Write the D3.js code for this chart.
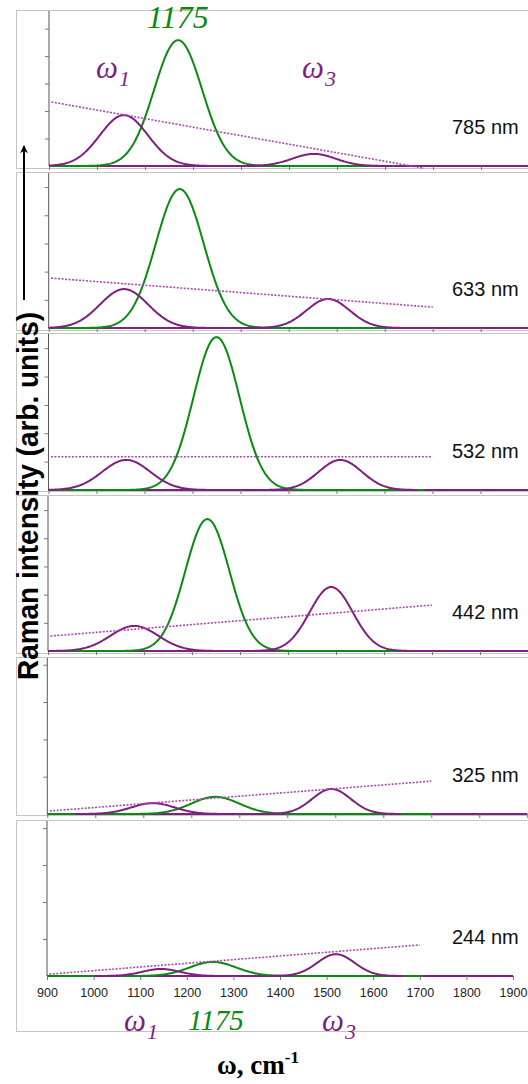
<!DOCTYPE html>
<html><head><meta charset="utf-8">
<script src="https://cdn.jsdelivr.net/npm/d3@7"></script>
<style>body{margin:0;background:#fff} svg{display:block}</style>
</head><body>
<svg id="c" width="528" height="1084"></svg>
<script>
// ---- data ----
const lasers = ["785 nm", "633 nm", "532 nm", "442 nm", "325 nm", "244 nm"];
const xTickValues = [900, 1000, 1100, 1200, 1300, 1400, 1500, 1600, 1700, 1800, 1900];
// omega1 band
const w1Center = [1056, 1057, 1062, 1080, 1120, 1145];
const w1Height = [1.85, 1.38, 1.06, 0.89, 0.29, 0.19];
const w1Sigma  = [50, 50, 50, 50, 45, 40];
// 1175 band
const gCenter = [1169, 1173, 1250, 1232, 1250, 1256];
const gHeight = [4.58, 4.93, 5.39, 4.68, 0.46, 0.38];
const gSigma  = [50, 50, 48, 46, 50, 50];
// omega3 band
const w3Center = [1452, 1482, 1508, 1490, 1492, 1520];
const w3Height = [0.44, 1.03, 1.06, 2.27, 0.67, 0.59];
const w3Sigma  = [45, 45, 45, 45, 40, 40];
// dotted background line (value at start / end)
const bgX0 = [905, 905, 905, 905, 905, 905];
const bgX1 = [1681, 1700, 1700, 1700, 1700, 1700];
const bgY0 = [2.33, 1.77, 1.17, 0.53, 0.08, 0.05];
const bgY1 = [-0.08, 0.74, 1.17, 1.63, 0.88, 0.84];
const yAxisMax = [5.64, 5.5, 5.5, 5.5, 4.18, 4.19];
const yTickValues = [1, 2, 3, 4, 5];

// ---- layout ----
const layout = {
  boxTop:    [10, 172, 333, 495, 657, 820],
  boxBottom: [168, 330, 491, 653, 815, 1031],
  baseline:  [166, 328, 490, 651, 814, 976],
  plotLeft:  [49, 48.7, 48.5, 48, 47.3, 47],
  plotRight: [529, 528.7, 528.5, 528, 527.3, 513]
};
const PURPLE = "#7f1f82", GREEN = "#0b8a12", DOT = "#b048b4";

const svg = d3.select("#c");

function gauss(c, h, s) { return x => h * Math.exp(-0.5 * ((x - c) / s) ** 2); }

lasers.forEach((lab, i) => {
  const g = svg.append("g");
  const x = d3.scaleLinear().domain([900, 1900]).range([layout.plotLeft[i], layout.plotRight[i]]);
  const y = d3.scaleLinear().domain([0, yAxisMax[i]]).range([layout.baseline[i], layout.boxTop[i] + 1]);

  // panel box
  g.append("rect").attr("x", 16.5).attr("y", layout.boxTop[i] + 0.5)
    .attr("width", 540).attr("height", layout.boxBottom[i] - layout.boxTop[i])
    .attr("fill", "none").attr("stroke", "#c4c4c4").attr("stroke-width", 1);

  // y axis
  const ya = d3.axisLeft(y).tickValues(yTickValues.filter(v => v < yAxisMax[i])).tickSize(4).tickFormat("");
  const yg = g.append("g").attr("transform", `translate(${layout.plotLeft[i]},0)`).call(ya);
  yg.select(".domain").attr("stroke", "#555").attr("d", `M0,${y.range()[1]}V${y.range()[0]}`);
  yg.selectAll(".tick line").attr("stroke", "#777");

  // x axis
  const xa = d3.axisBottom(x).tickValues(xTickValues).tickSize(4)
    .tickFormat(i === lasers.length - 1 ? d3.format("d") : "");
  const xg = g.append("g").attr("transform", `translate(0,${layout.baseline[i]})`).call(xa);
  xg.select(".domain").attr("stroke", PURPLE).attr("stroke-width", 2)
    .attr("d", `M${x.range()[0]},0H${x.range()[1]}`);
  xg.selectAll(".tick line").attr("stroke", "#777");
  xg.selectAll(".tick text").attr("font-family", "Liberation Sans, Arial, sans-serif")
    .attr("font-size", 12.5).attr("fill", "#222").attr("dy", "1.1em");

  const line = f => d3.line().x(d => x(d)).y(d => y(f(d))).curve(d3.curveLinear);
  const band = (c, h, s, color, k) => {
    const xs = d3.range(Math.max(900, c - k * s), Math.min(1900, c + k * s) + 0.1, 2);
    g.append("path").datum(xs).attr("d", line(gauss(c, h, s)))
      .attr("fill", "none").attr("stroke", color).attr("stroke-width", 2).attr("stroke-linejoin", "round");
  };
  band(gCenter[i], gHeight[i], gSigma[i], GREEN, 9);
  band(w1Center[i], w1Height[i], w1Sigma[i], PURPLE, 3.6);
  band(w3Center[i], w3Height[i], w3Sigma[i], PURPLE, 3.6);

  // dotted background
  g.append("line").attr("x1", x(bgX0[i])).attr("x2", x(bgX1[i]))
    .attr("y1", y(bgY0[i])).attr("y2", y(bgY1[i]))
    .attr("stroke", DOT).attr("stroke-width", 1.6).attr("stroke-dasharray", "2,1.5");

  // laser label
  g.append("text").attr("x", 452).attr("y", layout.baseline[i] - 32)
    .attr("font-family", "Liberation Sans, Arial, sans-serif").attr("font-size", 20)
    .attr("fill", "#111").text(lab);
});

// band labels (top)
function omega(xp, yp, sub) {
  const t = svg.append("text").attr("x", xp).attr("y", yp)
    .attr("font-family", "Liberation Serif, Times New Roman, serif").attr("font-style", "italic")
    .attr("font-size", 31).attr("fill", PURPLE);
  t.append("tspan").text("ω");
  t.append("tspan").attr("font-size", 22).attr("dy", 8).attr("dx", 1).text(sub);
}
omega(96, 78, "1");
omega(302, 78, "3");
svg.append("text").attr("x", 147).attr("y", 28)
  .attr("font-family", "Liberation Serif, Times New Roman, serif").attr("font-style", "italic")
  .attr("font-size", 32).attr("fill", GREEN).text("1175");
// band labels (bottom)
omega(124, 1031, "1");
omega(322, 1031, "3");
svg.append("text").attr("x", 188).attr("y", 1030)
  .attr("font-family", "Liberation Serif, Times New Roman, serif").attr("font-style", "italic")
  .attr("font-size", 29).attr("fill", GREEN).text("1175");

// x title
const xt = svg.append("text").attr("x", 217).attr("y", 1074)
  .attr("font-family", "Liberation Serif, Times New Roman, serif").attr("font-weight", "bold")
  .attr("font-size", 27).attr("fill", "#000");
xt.append("tspan").text("ω, cm");
xt.append("tspan").attr("font-size", 17).attr("dy", -11).text("-1");

// y title + arrow
svg.append("text").attr("transform", "translate(38,496) rotate(-90)")
  .attr("text-anchor", "middle").attr("font-family", "Liberation Sans, Arial, sans-serif")
  .attr("font-weight", "bold").attr("font-size", 30).attr("fill", "#000")
  .attr("textLength", 368).attr("lengthAdjust", "spacingAndGlyphs")
  .text("Raman intensity (arb. units)");
svg.append("defs").append("marker").attr("id", "ah").attr("viewBox", "0 0 10 10")
  .attr("refX", 9).attr("refY", 5).attr("markerWidth", 8).attr("markerHeight", 8)
  .attr("markerUnits", "userSpaceOnUse").attr("orient", "auto")
  .append("path").attr("d", "M0,0L10,5L0,10L3,5Z").attr("fill", "#000");
svg.append("line").attr("x1", 24).attr("x2", 24).attr("y1", 300).attr("y2", 146)
  .attr("stroke", "#000").attr("stroke-width", 2).attr("marker-end", "url(#ah)");
</script>
</body></html>
